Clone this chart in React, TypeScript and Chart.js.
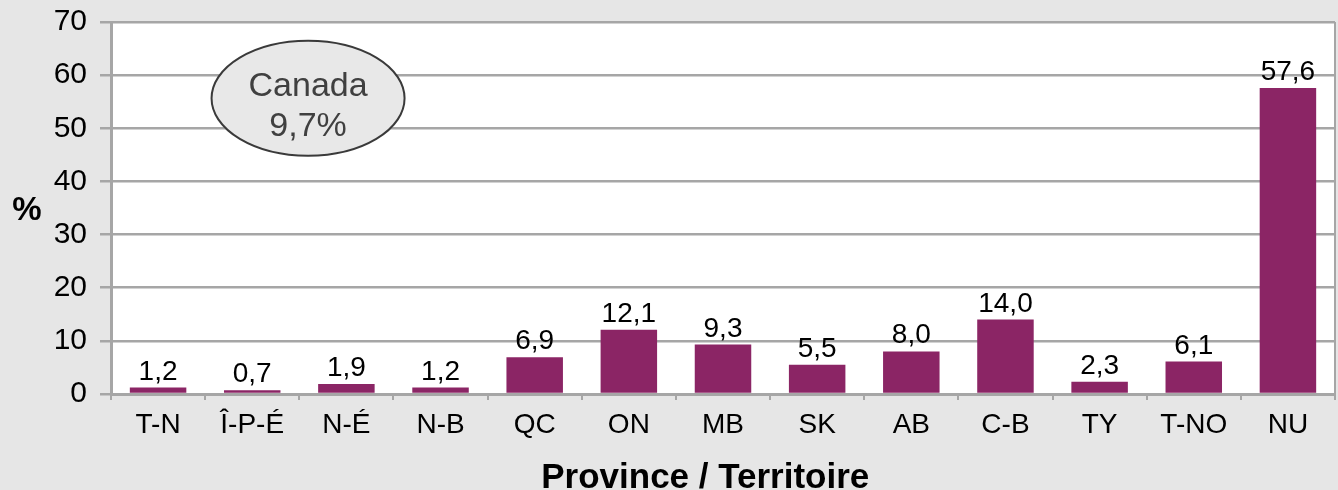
import React, { useEffect, useRef } from "react";
import { Chart, registerables } from "chart.js";

Chart.register(...registerables);

const categories = ["T-N", "Î-P-É", "N-É", "N-B", "QC", "ON", "MB", "SK", "AB", "C-B", "TY", "T-NO", "NU"];
const values = [1.2, 0.7, 1.9, 1.2, 6.9, 12.1, 9.3, 5.5, 8.0, 14.0, 2.3, 6.1, 57.6];
const yTicks = [0, 10, 20, 30, 40, 50, 60, 70];
const xTitle = "Province / Territoire";
const yTitle = "%";
const noteLines = ["Canada", "9,7%"];

const FONT = "'Liberation Sans', Arial, Helvetica, sans-serif";
const BAR = "#8b2565";
const GRID = "#a6a6a6";
const BG = "#e6e6e6";

const fmt = (v: number) => v.toFixed(1).replace(".", ",");

const decorPlugin = {
  id: "decor",
  beforeDraw(chart: any) {
    const { ctx, chartArea } = chart;
    ctx.save();
    ctx.fillStyle = BG;
    ctx.fillRect(0, 0, chart.width, chart.height);
    ctx.fillStyle = "#ffffff";
    ctx.fillRect(chartArea.left, chartArea.top, chartArea.right - chartArea.left, chartArea.bottom - chartArea.top);
    ctx.restore();
  },
  afterDraw(chart: any) {
    const { ctx, chartArea } = chart;
    ctx.save();
    // right border
    ctx.strokeStyle = GRID;
    ctx.lineWidth = 2;
    ctx.beginPath();
    ctx.moveTo(chartArea.right, chartArea.top);
    ctx.lineTo(chartArea.right, chartArea.bottom);
    ctx.stroke();

    // data labels
    const meta = chart.getDatasetMeta(0);
    ctx.fillStyle = "#000";
    ctx.font = `28px ${FONT}`;
    ctx.textAlign = "center";
    ctx.textBaseline = "alphabetic";
    meta.data.forEach((el: any, i: number) => {
      ctx.fillText(fmt(values[i]), el.x, el.y - 8);
    });

    // y title
    ctx.font = `bold 33px ${FONT}`;
    ctx.textAlign = "center";
    ctx.textBaseline = "middle";
    ctx.fillText(yTitle, 27, (chartArea.top + chartArea.bottom) / 2 + 3);

    // x title
    ctx.font = `bold 35px ${FONT}`;
    ctx.fillText(xTitle, chartArea.left + (chartArea.right - chartArea.left) * 0.4855, chart.height - 12);

    // ellipse note
    const cx = chartArea.left + (chartArea.right - chartArea.left) * 0.161;
    const cy = chartArea.top + (chartArea.bottom - chartArea.top) * 0.205;
    ctx.beginPath();
    ctx.ellipse(cx, cy, 96.5, 57.5, 0, 0, Math.PI * 2);
    ctx.fillStyle = "#e8e8e8";
    ctx.fill();
    ctx.strokeStyle = "#3a3a3a";
    ctx.lineWidth = 2;
    ctx.stroke();
    ctx.fillStyle = "#404040";
    ctx.font = `34px ${FONT}`;
    ctx.textAlign = "center";
    ctx.textBaseline = "middle";
    ctx.fillText(noteLines[0], cx, cy - 12);
    ctx.fillText(noteLines[1], cx, cy + 28);
    ctx.restore();
  },
};

export default function App() {
  const ref = useRef<HTMLCanvasElement | null>(null);
  useEffect(() => {
    document.body.style.margin = "0";
    if (!ref.current) return;
    const chart = new Chart(ref.current, {
      type: "bar",
      data: {
        labels: categories,
        datasets: [
          {
            data: values,
            backgroundColor: BAR,
            borderWidth: 0,
            barPercentage: 0.6,
            categoryPercentage: 1,
          },
        ],
      },
      options: {
        animation: false,
        responsive: false,
        maintainAspectRatio: false,
        devicePixelRatio: 1,
        layout: { padding: { top: 22, right: 3, left: 0, bottom: 0 } },
        plugins: { legend: { display: false }, tooltip: { enabled: false }, title: { display: false } },
        scales: {
          x: {
            grid: {
              display: true,
              drawOnChartArea: false,
              drawTicks: true,
              tickLength: 6,
              color: GRID,
              lineWidth: 2,
              offset: true,
            },
            border: { display: true, color: GRID, width: 3 },
            ticks: { color: "#000", font: { family: FONT, size: 28 }, padding: 8, maxRotation: 0, autoSkip: false },
            afterFit: (s: any) => {
              s.height = 96;
              s.paddingLeft = 0;
              s.paddingRight = 0;
            },
          },
          y: {
            min: 0,
            max: 70,
            afterBuildTicks: (s: any) => {
              s.ticks = yTicks.map((v) => ({ value: v }));
            },
            grid: { color: GRID, lineWidth: 2.5, tickLength: 11, drawTicks: true },
            border: { display: true, color: GRID, width: 3 },
            ticks: { color: "#000", font: { family: FONT, size: 30 }, padding: 13 },
            afterFit: (s: any) => {
              s.width = 111;
              s.paddingTop = 0;
              s.paddingBottom = 0;
            },
          },
        },
      },
      plugins: [decorPlugin],
    });
    return () => chart.destroy();
  }, []);
  return (
    <div style={{ width: 1338, height: 490, background: BG }}>
      <canvas ref={ref} width={1338} height={490} style={{ display: "block" }} />
    </div>
  );
}
